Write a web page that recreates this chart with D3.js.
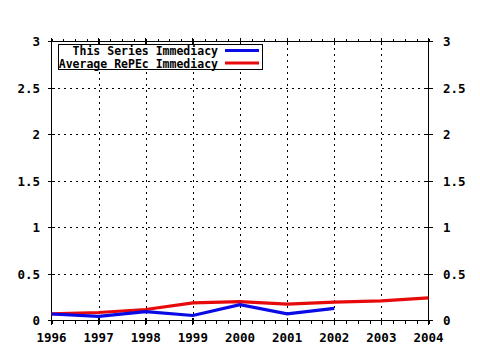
<!DOCTYPE html>
<html><head><meta charset="utf-8">
<script src="https://cdn.jsdelivr.net/npm/d3@7"></script>
<style>body{margin:0;background:#fff}svg{display:block}</style>
</head><body>
<svg id="c" width="480" height="350"></svg>
<script>
const years = [1996, 1997, 1998, 1999, 2000, 2001, 2002, 2003, 2004];
const seriesYears = [1996, 1997, 1998, 1999, 2000, 2001, 2002];
const seriesValues = [0.07, 0.045, 0.095, 0.054, 0.17, 0.072, 0.13];
const averageValues = [0.072, 0.086, 0.118, 0.19, 0.204, 0.176, 0.197, 0.21, 0.244];
const yTicks = [0, 0.5, 1, 1.5, 2, 2.5, 3];
const yTickLabels = ["0", "0.5", "1", "1.5", "2", "2.5", "3"];
const legendLabels = ["This Series Immediacy", "Average RePEc Immediacy"];
const colors = ["#0a0ae6", "#e60a0a"];

const svg = d3.select("#c");
const x = d3.scaleLinear().domain([1996, 2004]).range([51.5, 428.5]);
const y = d3.scaleLinear().domain([0, 3]).range([320.5, 41.5]);
const font = "'DejaVu Sans Mono', monospace";

// grid
const g = svg.append("g").attr("shape-rendering", "crispEdges");
g.selectAll(".vg").data(years.slice(1, -1)).enter().append("line")
  .attr("x1", d => Math.round(x(d)) + 0.5).attr("x2", d => Math.round(x(d)) + 0.5)
  .attr("y1", y(3)).attr("y2", y(0))
  .attr("stroke", "#000").attr("stroke-dasharray", "2,4");
g.selectAll(".hg").data(yTicks.slice(1, -1)).enter().append("line")
  .attr("x1", x(1996)).attr("x2", x(2004))
  .attr("y1", d => y(d)).attr("y2", d => y(d))
  .attr("stroke", "#000").attr("stroke-dasharray", "2,4");

// frame
g.append("rect").attr("x", x(1996)).attr("y", y(3))
  .attr("width", x(2004) - x(1996)).attr("height", y(0) - y(3))
  .attr("fill", "none").attr("stroke", "#000");

// minor axes ticks
const minor = d3.range(1996, 2004.001, 0.25);
const bottomAx = d3.axisBottom(x).tickValues(minor).tickSize(3).tickFormat("");
const topAx = d3.axisTop(x).tickValues(minor).tickSize(3).tickFormat("");
svg.append("g").attr("transform", `translate(0,${y(0)})`).call(bottomAx)
  .call(a => a.select(".domain").remove())
  .attr("shape-rendering", "crispEdges");
svg.append("g").attr("transform", `translate(0,${y(3)})`).call(topAx)
  .call(a => a.select(".domain").remove())
  .attr("shape-rendering", "crispEdges");

// major ticks crossing
g.selectAll(".xt").data(years).enter().append("line")
  .attr("x1", d => x(d)).attr("x2", d => x(d))
  .attr("y1", y(0) - 3).attr("y2", y(0) + 4).attr("stroke", "#000");
g.selectAll(".xtt").data(years).enter().append("line")
  .attr("x1", d => x(d)).attr("x2", d => x(d))
  .attr("y1", y(3) - 4).attr("y2", y(3) + 3).attr("stroke", "#000");
g.selectAll(".ylt").data(yTicks).enter().append("line")
  .attr("x1", x(1996) - 4).attr("x2", x(1996) + 3)
  .attr("y1", d => y(d)).attr("y2", d => y(d)).attr("stroke", "#000");
g.selectAll(".yrt").data(yTicks).enter().append("line")
  .attr("x1", x(2004) - 3).attr("x2", x(2004) + 4)
  .attr("y1", d => y(d)).attr("y2", d => y(d)).attr("stroke", "#000");

// tick labels
svg.selectAll(".xl").data(years).enter().append("text")
  .attr("x", d => x(d)).attr("y", 342).attr("text-anchor", "middle")
  .attr("font-family", font).attr("font-weight", "bold").attr("font-size", "12.5px")
  .text(d => d);
svg.selectAll(".yl").data(yTicks).enter().append("text")
  .attr("x", 40).attr("y", d => y(d) + 4.5).attr("text-anchor", "end")
  .attr("font-family", font).attr("font-weight", "bold").attr("font-size", "12.5px")
  .text((d, i) => yTickLabels[i]);
svg.selectAll(".yr").data(yTicks).enter().append("text")
  .attr("x", 443).attr("y", d => y(d) + 4.5).attr("text-anchor", "start")
  .attr("font-family", font).attr("font-weight", "bold").attr("font-size", "12.5px")
  .text((d, i) => yTickLabels[i]);

// lines
const line = d3.line().x(d => x(d[0])).y(d => y(d[1]));
svg.append("path").datum(years.map((yr, i) => [yr, averageValues[i]]))
  .attr("d", line).attr("fill", "none").attr("stroke", colors[1]).attr("stroke-width", 3.2);
svg.append("path").datum(seriesYears.map((yr, i) => [yr, seriesValues[i]]))
  .attr("d", line).attr("fill", "none").attr("stroke", colors[0]).attr("stroke-width", 3.2);

// legend
const lg = svg.append("g");
lg.append("rect").attr("x", 58.5).attr("y", 44.5).attr("width", 204).attr("height", 25)
  .attr("fill", "#fff").attr("stroke", "#000").attr("shape-rendering", "crispEdges");
legendLabels.forEach((t, i) => {
  lg.append("text").attr("x", 218).attr("y", 55 + i * 12.5).attr("text-anchor", "end")
    .attr("font-family", font).attr("font-weight", "bold").attr("font-size", "11.5px").text(t);
  lg.append("line").attr("x1", 225).attr("x2", 259)
    .attr("y1", 50.5 + i * 12.5).attr("y2", 50.5 + i * 12.5)
    .attr("stroke", colors[i]).attr("stroke-width", 3.2);
});
</script>
</body></html>
